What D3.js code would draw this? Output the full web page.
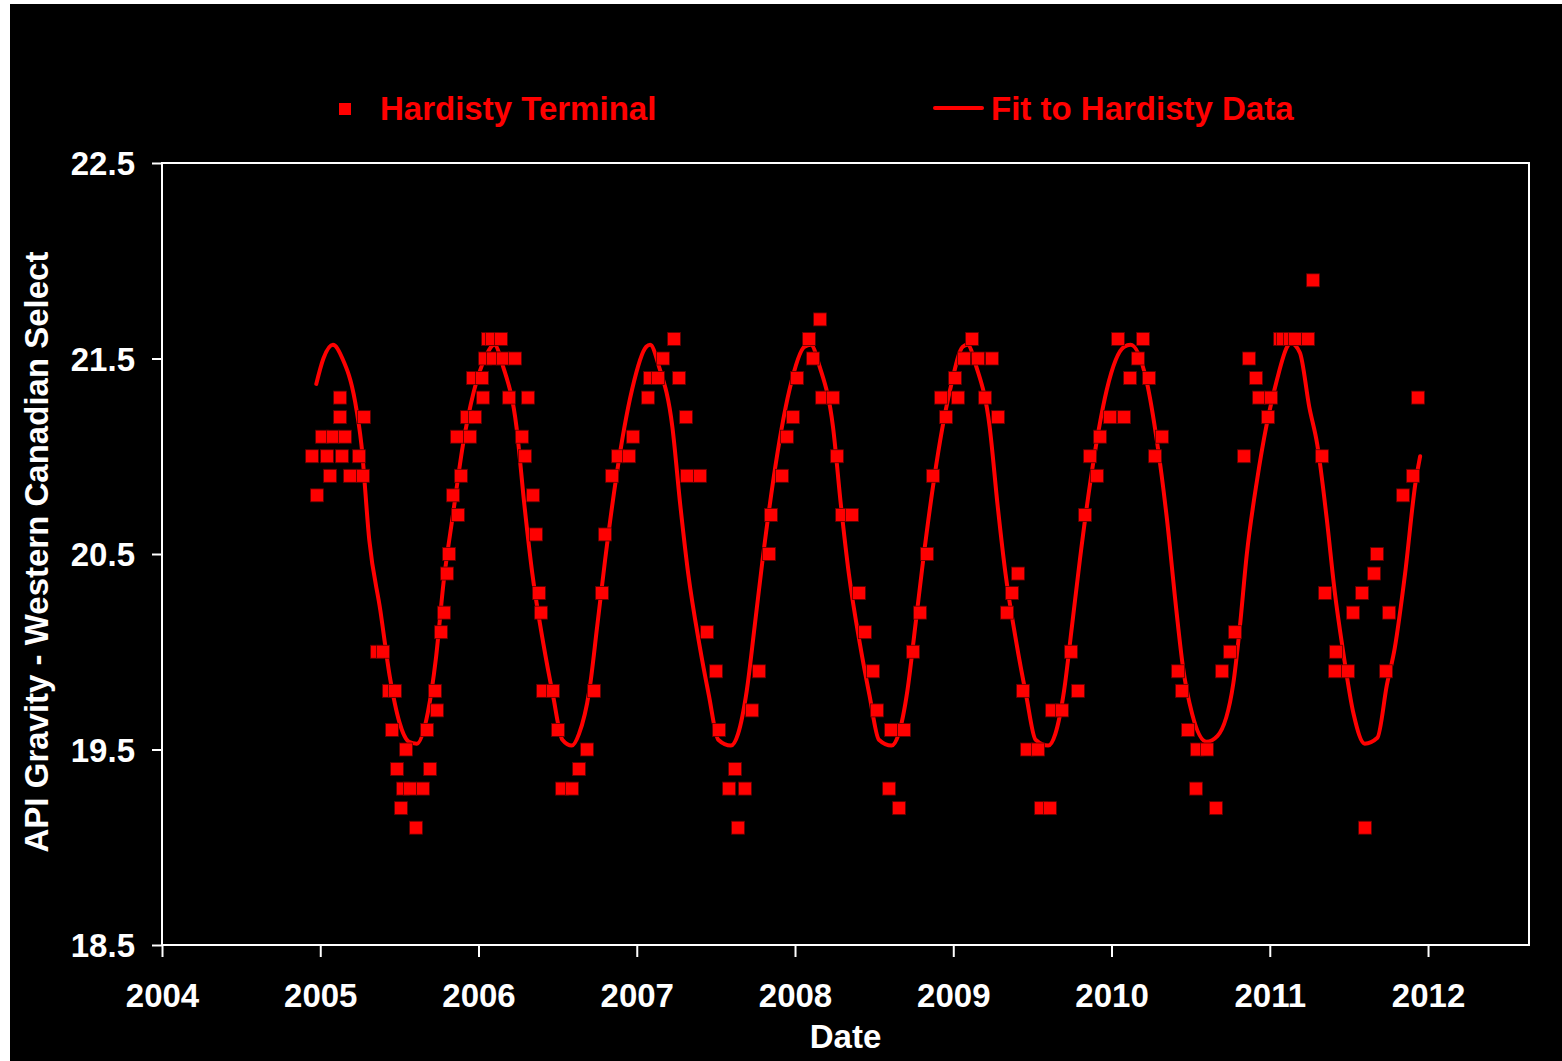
<!DOCTYPE html>
<html>
<head>
<meta charset="utf-8">
<script src="https://cdn.jsdelivr.net/npm/d3@7/dist/d3.min.js"></script>
<style>
  html, body { margin: 0; padding: 0; background: #fff; }
  svg { display: block; }
  text { font-family: "Liberation Sans", Arial, sans-serif; font-weight: bold; }
</style>
</head>
<body>
<div id="chart"></div>
<script>
// Hardisty terminal observations (decimal year, API gravity)
const obsYear = [
  2004.948, 2004.979, 2005.011, 2005.043, 2005.062, 2005.081, 2005.125, 2005.125, 2005.137, 2005.156,
  2005.188, 2005.245, 2005.270, 2005.276, 2005.359, 2005.397, 2005.434, 2005.472, 2005.453, 2005.485,
  2005.510, 2005.523, 2005.542, 2005.567, 2005.605, 2005.649, 2005.675, 2005.694, 2005.725, 2005.738,
  2005.763, 2005.782, 2005.801, 2005.814, 2005.839, 2005.870, 2005.864, 2005.889, 2005.927, 2005.946,
  2005.965, 2005.978, 2006.022, 2006.028, 2006.041, 2006.060, 2006.085, 2006.092, 2006.142, 2006.155,
  2006.193, 2006.231, 2006.275, 2006.294, 2006.313, 2006.344, 2006.363, 2006.382, 2006.395, 2006.408,
  2006.471, 2006.502, 2006.528, 2006.591, 2006.635, 2006.686, 2006.730, 2006.780, 2006.799, 2006.844,
  2006.882, 2006.951, 2006.976, 2007.071, 2007.084, 2007.134, 2007.166, 2007.235, 2007.267, 2007.311,
  2007.318, 2007.400, 2007.444, 2007.501, 2007.520, 2007.583, 2007.621, 2007.640, 2007.684, 2007.728,
  2007.773, 2007.836, 2007.848, 2007.918, 2007.949, 2007.987, 2008.013, 2008.088, 2008.114, 2008.158,
  2008.171, 2008.240, 2008.265, 2008.297, 2008.360, 2008.404, 2008.442, 2008.493, 2008.518, 2008.594,
  2008.607, 2008.657, 2008.689, 2008.746, 2008.790, 2008.834, 2008.872, 2008.923, 2008.954, 2009.011,
  2009.030, 2009.068, 2009.118, 2009.156, 2009.201, 2009.245, 2009.283, 2009.340, 2009.371, 2009.409,
  2009.441, 2009.466, 2009.536, 2009.555, 2009.611, 2009.624, 2009.687, 2009.744, 2009.788, 2009.833,
  2009.864, 2009.908, 2009.927, 2009.991, 2010.041, 2010.079, 2010.117, 2010.167, 2010.199, 2010.237,
  2010.275, 2010.319, 2010.420, 2010.445, 2010.483, 2010.534, 2010.540, 2010.603, 2010.660, 2010.698,
  2010.749, 2010.780, 2010.837, 2010.869, 2010.913, 2010.932, 2010.989, 2011.008, 2011.065, 2011.084,
  2011.128, 2011.160, 2011.242, 2011.273, 2011.330, 2011.349, 2011.412, 2011.419, 2011.494, 2011.526,
  2011.583, 2011.602, 2011.659, 2011.678, 2011.735, 2011.754, 2011.842, 2011.905, 2011.937
];
const obsApi = [
  21.0, 20.8, 21.1, 21.0, 20.9, 21.1, 21.3, 21.2, 21.0, 21.1,
  20.9, 21.0, 20.9, 21.2, 20.0, 20.0, 19.8, 19.8, 19.6, 19.4,
  19.2, 19.3, 19.5, 19.3, 19.1, 19.3, 19.6, 19.4, 19.8, 19.7,
  20.1, 20.2, 20.4, 20.5, 20.8, 20.7, 21.1, 20.9, 21.2, 21.1,
  21.4, 21.2, 21.4, 21.3, 21.5, 21.6, 21.6, 21.5, 21.6, 21.5,
  21.3, 21.5, 21.1, 21.0, 21.3, 20.8, 20.6, 20.3, 20.2, 19.8,
  19.8, 19.6, 19.3, 19.3, 19.4, 19.5, 19.8, 20.3, 20.6, 20.9,
  21.0, 21.0, 21.1, 21.3, 21.4, 21.4, 21.5, 21.6, 21.4, 21.2,
  20.9, 20.9, 20.1, 19.9, 19.6, 19.3, 19.4, 19.1, 19.3, 19.7,
  19.9, 20.5, 20.7, 20.9, 21.1, 21.2, 21.4, 21.6, 21.5, 21.7,
  21.3, 21.3, 21.0, 20.7, 20.7, 20.3, 20.1, 19.9, 19.7, 19.3,
  19.6, 19.2, 19.6, 20.0, 20.2, 20.5, 20.9, 21.3, 21.2, 21.4,
  21.3, 21.5, 21.6, 21.5, 21.3, 21.5, 21.2, 20.2, 20.3, 20.4,
  19.8, 19.5, 19.5, 19.2, 19.2, 19.7, 19.7, 20.0, 19.8, 20.7,
  21.0, 20.9, 21.1, 21.2, 21.6, 21.2, 21.4, 21.5, 21.6, 21.4,
  21.0, 21.1, 19.9, 19.8, 19.6, 19.3, 19.5, 19.5, 19.2, 19.9,
  20.0, 20.1, 21.0, 21.5, 21.4, 21.3, 21.2, 21.3, 21.6, 21.6,
  21.6, 21.6, 21.6, 21.9, 21.0, 20.3, 19.9, 20.0, 19.9, 20.2,
  20.3, 19.1, 20.4, 20.5, 19.9, 20.2, 20.8, 20.9, 21.3
];

// fitted curve
const fitYear = [
  2004.975, 2005.02, 2005.08, 2005.14, 2005.22, 2005.26, 2005.31, 2005.38, 2005.44, 2005.50,
  2005.56, 2005.61, 2005.68, 2005.73, 2005.78, 2005.84, 2005.90, 2005.97, 2006.04, 2006.10,
  2006.155, 2006.24, 2006.29, 2006.34, 2006.41, 2006.47, 2006.53, 2006.59, 2006.635, 2006.70,
  2006.75, 2006.80, 2006.87, 2006.92, 2006.97, 2007.06, 2007.085, 2007.14, 2007.225, 2007.275,
  2007.325, 2007.395, 2007.455, 2007.515, 2007.595, 2007.64, 2007.695, 2007.745, 2007.795, 2007.865,
  2007.915, 2007.965, 2008.06, 2008.10, 2008.155, 2008.24, 2008.29, 2008.34, 2008.41, 2008.47,
  2008.53, 2008.61, 2008.655, 2008.71, 2008.76, 2008.81, 2008.88, 2008.93, 2008.98, 2009.06,
  2009.09, 2009.145, 2009.23, 2009.28, 2009.33, 2009.40, 2009.46, 2009.52, 2009.60, 2009.645,
  2009.70, 2009.75, 2009.80, 2009.87, 2009.92, 2009.97, 2010.08, 2010.12, 2010.22, 2010.29,
  2010.35, 2010.41, 2010.45, 2010.51, 2010.60, 2010.67, 2010.77, 2010.81, 2010.855, 2010.92,
  2010.98, 2011.045, 2011.11, 2011.13, 2011.19, 2011.25, 2011.30, 2011.36, 2011.41, 2011.46,
  2011.53, 2011.60, 2011.68, 2011.74, 2011.79, 2011.855, 2011.92, 2011.95
];
const fitApi = [
  21.37, 21.50, 21.57, 21.50, 21.28, 21.06, 20.57, 20.21, 19.87, 19.64,
  19.54, 19.53, 19.69, 19.96, 20.36, 20.71, 21.05, 21.33, 21.50, 21.57,
  21.46, 21.15, 20.75, 20.40, 20.04, 19.78, 19.55, 19.52, 19.58, 19.80,
  20.13, 20.47, 20.89, 21.14, 21.34, 21.56, 21.57, 21.46, 21.15, 20.75,
  20.40, 20.04, 19.78, 19.55, 19.52, 19.58, 19.80, 20.13, 20.47, 20.89,
  21.14, 21.34, 21.56, 21.57, 21.46, 21.15, 20.75, 20.40, 20.04, 19.78,
  19.55, 19.52, 19.58, 19.80, 20.13, 20.47, 20.89, 21.14, 21.34, 21.56,
  21.57, 21.46, 21.15, 20.75, 20.40, 20.04, 19.78, 19.55, 19.52, 19.58,
  19.80, 20.13, 20.47, 20.89, 21.14, 21.34, 21.56, 21.57, 21.39, 21.06,
  20.68, 20.21, 19.93, 19.68, 19.54, 19.57, 19.84, 20.12, 20.50, 20.88,
  21.16, 21.39, 21.56, 21.58, 21.53, 21.25, 21.06, 20.68, 20.31, 20.02,
  19.68, 19.53, 19.56, 19.83, 20.02, 20.40, 20.86, 21.00
];

const xTicks = [2004, 2005, 2006, 2007, 2008, 2009, 2010, 2011, 2012];
const yTicks = [18.5, 19.5, 20.5, 21.5, 22.5];
const seriesNames = ['Hardisty Terminal', 'Fit to Hardisty Data'];

const W = 1562, H = 1061, m = { t: 163, r: 33, b: 116, l: 162 };
const RED = '#ff0000', FS = 33;

const svg = d3.select('#chart').append('svg').attr('width', W).attr('height', H);
svg.append('rect').attr('x', 10).attr('y', 4).attr('width', W - 10).attr('height', H - 4).attr('fill', '#000');

const x = d3.scaleLinear().domain([2004, 2012.638]).range([m.l, W - m.r]);
const y = d3.scaleLinear().domain([18.5, 22.5]).range([H - m.b, m.t]);

// frame
svg.append('rect').attr('x', m.l).attr('y', m.t)
  .attr('width', x.range()[1] - m.l).attr('height', y(18.5) - m.t)
  .attr('fill', 'none').attr('stroke', '#fff').attr('stroke-width', 2);

const xAxis = svg.append('g').attr('transform', `translate(0,${y(18.5)})`)
  .call(d3.axisBottom(x).tickValues(xTicks).tickFormat(d3.format('d')).tickSize(12).tickPadding(27));
const yAxis = svg.append('g').attr('transform', `translate(${m.l},0)`)
  .call(d3.axisLeft(y).tickValues(yTicks).tickFormat(d3.format('.1f')).tickSize(10).tickPadding(17));
[xAxis, yAxis].forEach(g => {
  g.select('.domain').remove();
  g.selectAll('line').attr('stroke', '#fff').attr('stroke-width', 2);
  g.selectAll('text').attr('fill', '#fff').attr('font-size', FS)
    .attr('font-family', '"Liberation Sans", Arial, sans-serif').attr('font-weight', 'bold');
});
yAxis.selectAll('text').attr('dy', '0.36em');

svg.append('text').attr('x', (m.l + x.range()[1]) / 2).attr('y', 1048)
  .attr('text-anchor', 'middle').attr('fill', '#fff').attr('font-size', FS).text('Date');
svg.append('text').attr('transform', `translate(48,${(m.t + y(18.5)) / 2 - 2}) rotate(-90)`)
  .attr('text-anchor', 'middle').attr('fill', '#fff').attr('font-size', FS)
  .text('API Gravity - Western Canadian Select');

// fit line
const fit = fitYear.map((t, i) => [t, fitApi[i]]);
svg.append('path').datum(fit)
  .attr('d', d3.line().x(d => x(d[0])).y(d => y(d[1])).curve(d3.curveMonotoneX))
  .attr('fill', 'none').attr('stroke', RED).attr('stroke-width', 4)
  .attr('stroke-linejoin', 'round').attr('stroke-linecap', 'round');

// observation markers
const obs = obsYear.map((t, i) => [t, obsApi[i]]);
const s = 13;
svg.append('g').selectAll('rect').data(obs).join('rect')
  .attr('x', d => x(d[0]) - s / 2).attr('y', d => y(d[1]) - s / 2)
  .attr('width', s).attr('height', s)
  .attr('fill', RED).attr('stroke', '#600000').attr('stroke-width', 0.8);

// legend
const lg = svg.append('g');
lg.append('rect').attr('x', 339).attr('y', 103).attr('width', 12).attr('height', 12).attr('fill', RED);
lg.append('text').attr('x', 380).attr('y', 120).attr('fill', RED).attr('font-size', FS).text(seriesNames[0]);
lg.append('line').attr('x1', 935).attr('x2', 982).attr('y1', 108).attr('y2', 108)
  .attr('stroke', RED).attr('stroke-width', 4).attr('stroke-linecap', 'round');
lg.append('text').attr('x', 991).attr('y', 120).attr('fill', RED).attr('font-size', FS).text(seriesNames[1]);
</script>
</body>
</html>
